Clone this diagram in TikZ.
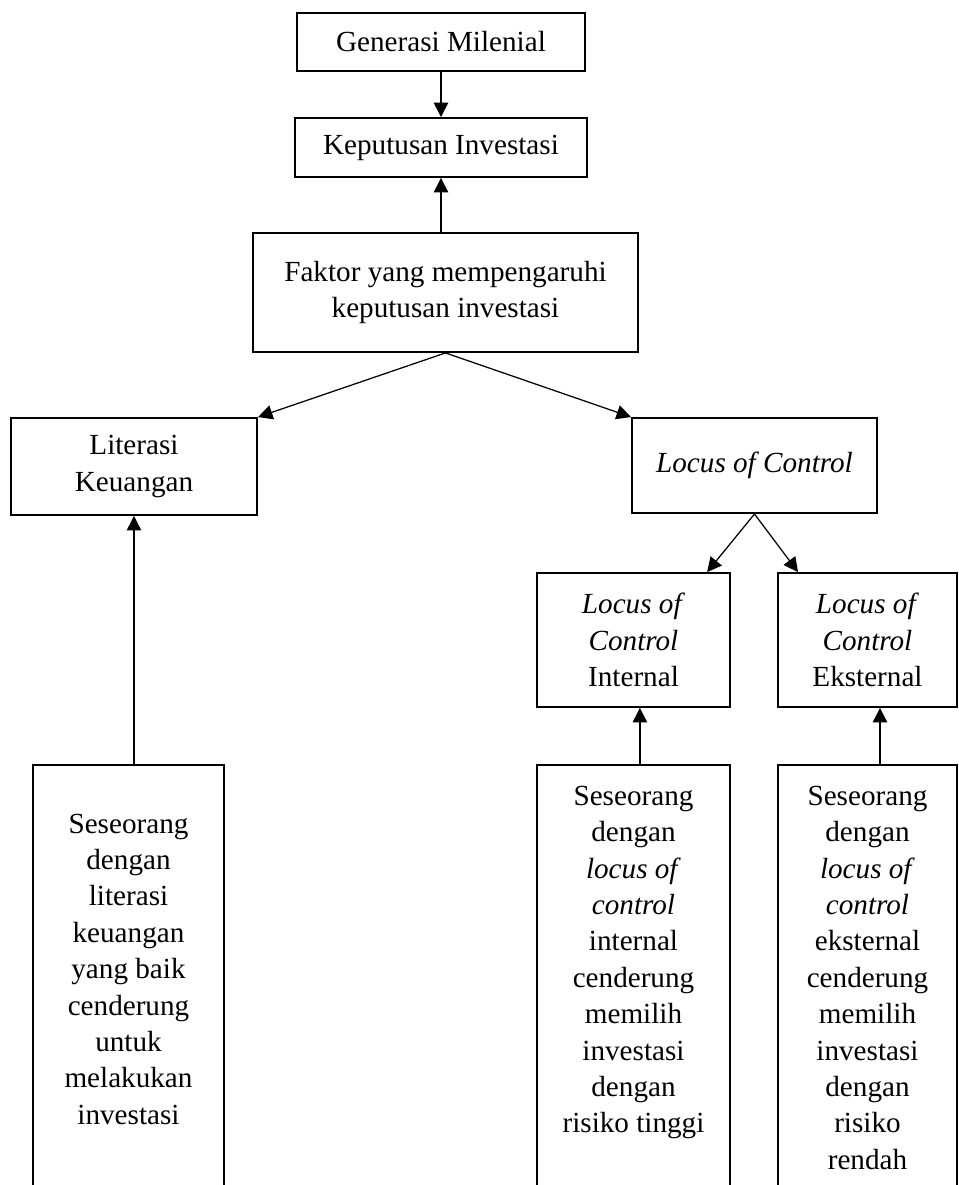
\documentclass[tikz,border=0pt]{standalone}
\usepackage{fontspec}
\setmainfont{Liberation Serif}
\usetikzlibrary{arrows.meta,positioning}

\begin{document}
\begin{tikzpicture}[
        x=0.36pt,y=-0.36pt,
        every node/.style={font=\fontsize{10.5pt}{13.1pt}\selectfont},
        box/.style={rectangle,draw=black,fill=white,line width=0.7pt,
                    align=center,inner sep=2pt},
        lowbox/.style={box,anchor=north,text depth=150pt,inner ysep=7.6pt},
        arr/.style={-{Triangle[length=5.2pt,width=5.2pt]},line width=0.45pt}
      ]
  \useasboundingbox (0,0) rectangle (959,1185);
  \clip (0,0) rectangle (959,1185);

  \node[box,minimum width=103.7pt,minimum height=20.9pt] (gen) at (441,42) {Generasi Milenial};
  \node[box,minimum width=104.8pt,minimum height=21.2pt] (kep) at (441,147.5) {Keputusan Investasi};
  \node[box,minimum width=138.6pt,minimum height=42.8pt] (fak) at (445.5,292.5)
       {Faktor yang mempengaruhi\\keputusan investasi};
  \node[box,minimum width=88.6pt,minimum height=34.9pt] (lit) at (134,466.5) {Literasi\\Keuangan};
  \node[box,minimum width=88.2pt,minimum height=34.2pt] (loc) at (754.5,465.5) {\textit{Locus of Control}};
  \node[box,minimum width=69.5pt,minimum height=48.2pt] (loci) at (633.5,640)
       {\textit{Locus of}\\\textit{Control}\\Internal};
  \node[box,minimum width=64.4pt,minimum height=48.2pt] (loce) at (867.5,640)
       {\textit{Locus of}\\\textit{Control}\\Eksternal};

  % descriptions (run past the lower edge)
  \node[lowbox,minimum width=68.8pt,inner ysep=17.6pt] (dlit) at (128.5,764)
       {Seseorang\\dengan\\literasi\\keuangan\\yang baik\\cenderung\\untuk\\melakukan\\investasi};
  \node[lowbox,minimum width=69.5pt] (dloci) at (633.5,764)
       {Seseorang\\dengan\\\textit{locus of}\\\textit{control}\\internal\\cenderung\\memilih\\investasi\\dengan\\risiko tinggi};
  \node[lowbox,minimum width=64.4pt] (dloce) at (867.5,764)
       {Seseorang\\dengan\\\textit{locus of}\\\textit{control}\\eksternal\\cenderung\\memilih\\investasi\\dengan\\risiko\\rendah};

  \draw[arr] (gen) -- (kep);
  \draw[arr] (fak.north -| kep) -- (kep.south);
  \draw[arr] (fak.south) -- (lit.north east);
  \draw[arr] (fak.south) -- (loc.north west);
  \draw[arr] (loc.south) -- ([xshift=26.5pt]loci.north);
  \draw[arr] (loc.south) -- ([xshift=-25pt]loce.north);
  \draw[arr] (dlit.north -| lit.south) -- (lit.south);
  \draw[arr] ([xshift=2.3pt]dloci.north) -- ([xshift=2.3pt]loci.south);
  \draw[arr] ([xshift=4.5pt]dloce.north) -- ([xshift=4.5pt]loce.south);
\end{tikzpicture}
\end{document}
